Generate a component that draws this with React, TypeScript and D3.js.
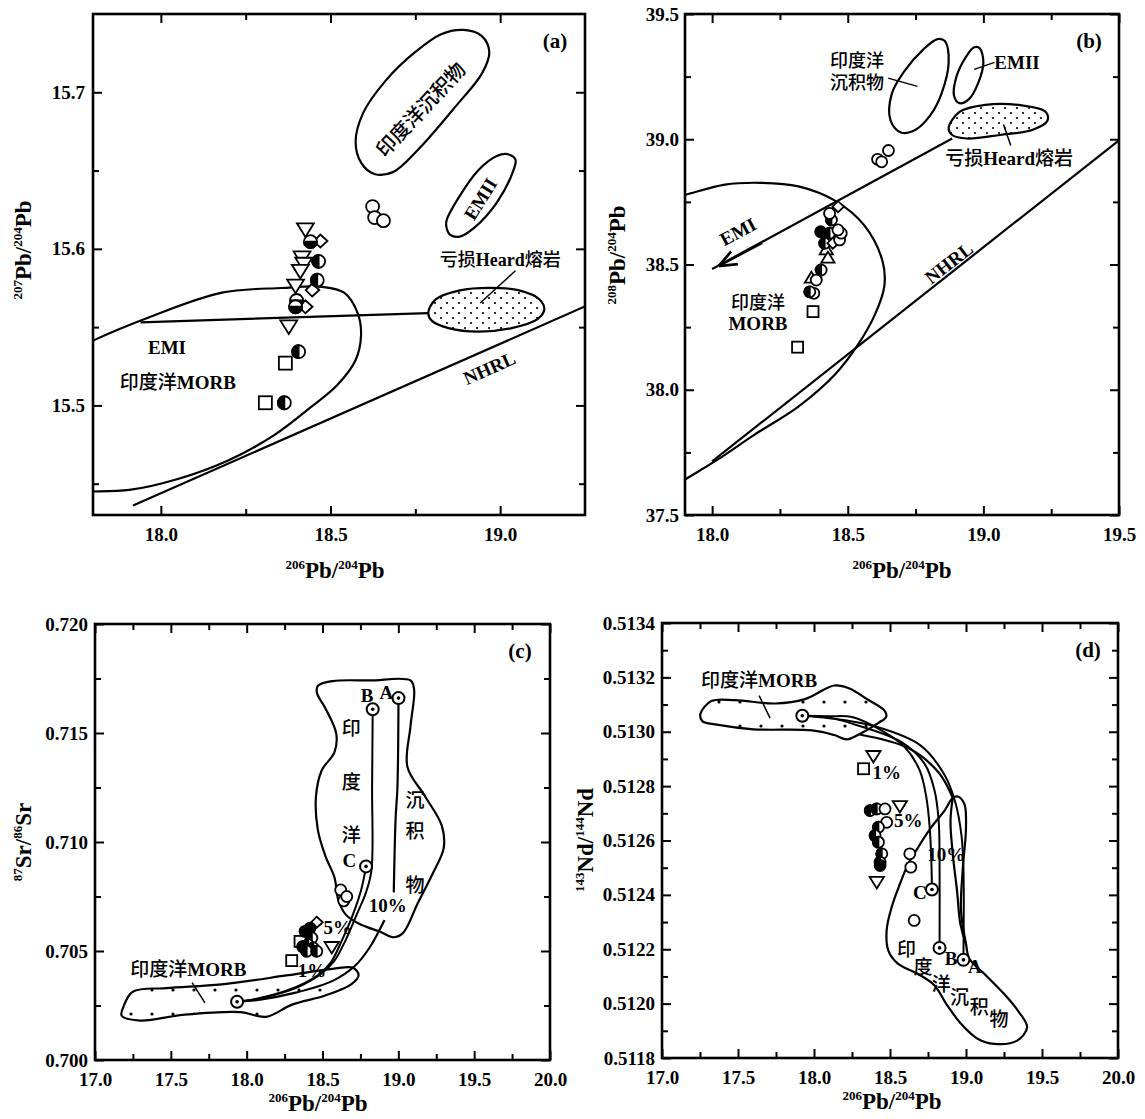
import React, { useEffect, useRef } from 'react';
import * as d3 from 'd3';

type P = [number, number];
type Sym = [number, number, string];
type Lab = [string, number, number, number?, number?];

const LATIN = "'Liberation Serif', 'Times New Roman', serif";
const MIXED = "'Liberation Serif', 'Noto Sans CJK SC', serif";

// ---------- panel (a): 207Pb/204Pb vs 206Pb/204Pb ----------
const aXTicks = [18.0, 18.5, 19.0];
const aXMinor = [18.25, 18.75];
const aYTicks = [15.5, 15.6, 15.7];
const aYMinor = [15.45, 15.55, 15.65];

const aMorbCurve: P[] = [
  [17.76, 15.537], [17.8, 15.5414], [17.962, 15.556], [18.18, 15.572], [18.356, 15.575], [18.476, 15.5757],
  [18.54, 15.572], [18.58, 15.559], [18.59, 15.545], [18.574, 15.529], [18.52, 15.513], [18.443, 15.499],
  [18.334, 15.481], [18.2, 15.465], [18.05, 15.453], [17.907, 15.446], [17.8, 15.445], [17.76, 15.445],
];
const aSediment: P[] = [
  [18.574, 15.6684], [18.591, 15.6547], [18.629, 15.6478], [18.684, 15.649], [18.76, 15.6638], [18.87, 15.6913],
  [18.946, 15.7119], [18.968, 15.7256], [18.946, 15.7359], [18.892, 15.7398], [18.826, 15.7371], [18.749, 15.7256],
  [18.662, 15.7073], [18.596, 15.6867],
];
const aEmii: P[] = [
  [18.842, 15.6135], [18.853, 15.6089], [18.881, 15.6078], [18.924, 15.6135], [18.99, 15.6295], [19.039, 15.6501],
  [19.045, 15.657], [19.023, 15.6604], [18.99, 15.6593], [18.935, 15.6501], [18.875, 15.6318], [18.842, 15.6181],
];
const aHeard: P[] = [
  [18.788, 15.559], [18.81, 15.5677], [18.881, 15.5735], [18.968, 15.5751], [19.056, 15.5735], [19.116, 15.5677],
  [19.13, 15.5613], [19.11, 15.5551], [19.034, 15.5494], [18.935, 15.5471], [18.848, 15.5494], [18.799, 15.554],
];
const aEmiLine: P[] = [[17.94, 15.553], [18.788, 15.559]];
const aNhrlLine: P[] = [[17.918, 15.436], [19.3, 15.568]];
const aLeaders: P[][] = [[[18.941, 15.5654], [19.045, 15.586]]];
const aSamples: Sym[] = [
  [18.426, 15.613, 'itri'], [18.416, 15.595, 'itri'], [18.421, 15.591, 'itri'], [18.411, 15.5865, 'itri'],
  [18.397, 15.577, 'itri'], [18.377, 15.551, 'itri'],
  [18.47, 15.605, 'dia'], [18.446, 15.5737, 'dia'], [18.426, 15.563, 'dia'],
  [18.441, 15.6046, 'hb'], [18.4, 15.567, 'hb'], [18.397, 15.563, 'hb'],
  [18.465, 15.592, 'hl'], [18.461, 15.58, 'hl'], [18.406, 15.5343, 'hl'], [18.364, 15.5017, 'hl'],
  [18.367, 15.527, 'sq'], [18.308, 15.5017, 'sq'],
  [18.624, 15.627, 'o'], [18.63, 15.62, 'o'], [18.656, 15.618, 'o'],
];
const aLabels: Lab[] = [
  ['印度洋沉积物', 18.766, 15.689, -47, 20],
  ['EMII', 18.941, 15.632, -58, 19],
  ['亏损Heard熔岩', 19.0, 15.593, 0, 18],
  ['EMI', 18.018, 15.537],
  ['印度洋MORB', 18.05, 15.515],
  ['NHRL', 18.968, 15.524, -24],
];

// ---------- panel (b): 208Pb/204Pb vs 206Pb/204Pb ----------
const bXTicks = [18.0, 18.5, 19.0, 19.5];
const bXMinor = [18.25, 18.75, 19.25];
const bYTicks = [37.5, 38.0, 38.5, 39.0, 39.5];
const bYMinor = [37.75, 38.25, 38.75, 39.25];

const bMorbCurve: P[] = [
  [17.86, 38.772], [17.892, 38.776], [18.047, 38.819], [18.182, 38.826], [18.318, 38.812], [18.453, 38.755],
  [18.561, 38.656], [18.628, 38.514], [18.635, 38.415], [18.601, 38.302], [18.534, 38.174], [18.453, 38.061],
  [18.318, 37.933], [18.155, 37.82], [18.02, 37.721], [17.892, 37.636], [17.86, 37.612],
];
const bSediment: P[] = [
  [18.858, 39.392], [18.872, 39.307], [18.845, 39.18], [18.804, 39.095], [18.75, 39.038], [18.696, 39.027],
  [18.658, 39.074], [18.662, 39.18], [18.709, 39.272], [18.777, 39.357], [18.831, 39.4],
];
const bEmii: P[] = [
  [18.986, 39.364], [19.0, 39.307], [18.98, 39.222], [18.946, 39.159], [18.912, 39.144], [18.892, 39.173],
  [18.901, 39.251], [18.936, 39.329], [18.966, 39.367],
];
const bHeard: P[] = [
  [18.872, 39.045], [18.912, 39.109], [19.007, 39.137], [19.142, 39.135], [19.23, 39.109], [19.236, 39.074],
  [19.182, 39.038], [19.061, 39.017], [18.939, 39.003], [18.885, 39.017],
];
const bEmiLine: P[] = [[18.0, 38.482], [18.885, 39.003]];
const bEmiArrow: P[] = [[18.185, 38.585], [18.03, 38.497]];
const bNhrlLine: P[] = [[18.0, 37.714], [19.5, 38.996]];
const bLeaders: P[][] = [
  [[18.649, 39.244], [18.757, 39.211]],
  [[19.041, 39.307], [18.966, 39.279]],
  [[19.074, 39.059], [19.101, 38.975]],
];
const bSamples: Sym[] = [
  [18.315, 38.17, 'sq'], [18.372, 38.312, 'sq'],
  [18.421, 38.558, 'tri'], [18.427, 38.525, 'tri'], [18.366, 38.445, 'tri'],
  [18.384, 38.438, 'o'], [18.375, 38.385, 'o'], [18.36, 38.391, 'hl'], [18.402, 38.478, 'hl'],
  [18.415, 38.585, 'hl'], [18.445, 38.585, 'dia'], [18.433, 38.625, 'hl'], [18.4, 38.631, 'f'],
  [18.47, 38.598, 'o'], [18.476, 38.625, 'o'], [18.464, 38.638, 'o'], [18.44, 38.678, 'hl'],
  [18.433, 38.704, 'o'], [18.464, 38.731, 'dia'],
  [18.61, 38.92, 'o'], [18.625, 38.91, 'o'], [18.65, 38.955, 'o'],
];
const bLabels: Lab[] = [
  ['印度洋', 18.534, 39.315, 0, 18], ['沉积物', 18.534, 39.228, 0, 18],
  ['EMII', 19.124, 39.307],
  ['亏损Heard熔岩', 19.095, 38.925],
  ['EMI', 18.095, 38.632, -28],
  ['印度洋', 18.169, 38.35, 0, 18], ['MORB', 18.169, 38.264],
  ['NHRL', 18.872, 38.507, -38],
];

// ---------- panel (c): 87Sr/86Sr vs 206Pb/204Pb ----------
const cdXTicks = [17.0, 17.5, 18.0, 18.5, 19.0, 19.5, 20.0];
const cdXMinor = [17.25, 17.75, 18.25, 18.75, 19.25, 19.75];
const cYTicks = [0.700, 0.705, 0.710, 0.715, 0.720];
const cYMinor = [0.7025, 0.7075, 0.7125, 0.7175];

const cMorbField: P[] = [
  [17.188, 0.70245], [17.249, 0.70313], [17.469, 0.7033], [17.835, 0.70347], [18.274, 0.70389], [18.567, 0.70418],
  [18.701, 0.70423], [18.738, 0.70389], [18.689, 0.70347], [18.518, 0.70296], [18.299, 0.70254], [18.128, 0.70198],
  [17.957, 0.7022], [17.591, 0.70208], [17.298, 0.70181], [17.176, 0.70203],
];
const cSedimentField: P[] = [
  [18.469, 0.71716], [18.567, 0.71738], [18.811, 0.71741], [19.08, 0.71741], [19.104, 0.71699], [19.08, 0.7153],
  [19.06, 0.71344], [19.177, 0.71209], [19.287, 0.71074], [19.299, 0.70972], [19.226, 0.70854], [19.128, 0.70719],
  [19.031, 0.70583], [18.97, 0.70563], [18.884, 0.70587], [18.738, 0.70626], [18.652, 0.70668], [18.604, 0.70735],
  [18.579, 0.70837], [18.518, 0.70938], [18.469, 0.71057], [18.457, 0.71209], [18.494, 0.71327], [18.579, 0.71412],
  [18.591, 0.71496], [18.518, 0.71615], [18.464, 0.71682],
];
const cMixA1: P[] = [[19.001, 0.7166], [18.994, 0.7125], [18.982, 0.71107], [18.97, 0.70769]];
const cMixA2: P[] = [
  [18.909, 0.70642], [18.811, 0.70516], [18.713, 0.70431], [18.567, 0.70363], [18.323, 0.70309], [18.079, 0.70276], [17.937, 0.70267],
];
const cMixB: P[] = [
  [18.831, 0.71609], [18.827, 0.7125], [18.823, 0.70871], [18.787, 0.70769], [18.726, 0.70668], [18.652, 0.70549],
  [18.579, 0.70456], [18.494, 0.70397], [18.323, 0.7033], [18.079, 0.70282], [17.937, 0.70267],
];
const cMixC: P[] = [
  [18.787, 0.70888], [18.757, 0.70786], [18.701, 0.70668], [18.628, 0.70549], [18.555, 0.70448], [18.469, 0.70389],
  [18.274, 0.70321], [18.054, 0.70279], [17.937, 0.70267],
];
const cEnds: P[] = [[17.937, 0.70267], [19.001, 0.7166], [18.831, 0.71609], [18.787, 0.70888]];
const cLeaders: P[][] = [[[17.64, 0.70355], [17.725, 0.70262]]];
const cSamples: Sym[] = [
  [18.352, 0.70544, 'sq'], [18.297, 0.70456, 'sq'], [18.561, 0.70521, 'itri'], [18.462, 0.70632, 'dia'],
  [18.418, 0.70605, 'f'], [18.385, 0.7059, 'f'], [18.43, 0.7056, 'hl'], [18.37, 0.7052, 'hl'],
  [18.406, 0.70529, 'hl'], [18.44, 0.70514, 'hl'], [18.396, 0.70499, 'hl'], [18.462, 0.70499, 'hl'],
  [18.62, 0.7078, 'o'], [18.64, 0.7073, 'o'], [18.66, 0.7075, 'o'],
];
const cLabels: Lab[] = [
  ['印', 18.69, 0.71522], ['度', 18.69, 0.71276], ['洋', 18.69, 0.71031],
  ['沉', 19.11, 0.71192], ['积', 19.11, 0.71048], ['物', 19.11, 0.70803],
  ['A', 18.921, 0.71686], ['B', 18.794, 0.71674], ['C', 18.677, 0.70918],
  ['10%', 18.93, 0.7071], ['5%', 18.6, 0.70609], ['1%', 18.43, 0.70414],
  ['印度洋MORB', 17.615, 0.70418],
];

// ---------- panel (d): 143Nd/144Nd vs 206Pb/204Pb ----------
const dYTicks = [0.5118, 0.512, 0.5122, 0.5124, 0.5126, 0.5128, 0.513, 0.5132, 0.5134];
const dYMinor = [0.5119, 0.5121, 0.5123, 0.5125, 0.5127, 0.5129, 0.5131, 0.5133];

const dMorbField: P[] = [
  [17.253, 0.513066], [17.325, 0.513113], [17.482, 0.513116], [17.747, 0.513104], [17.94, 0.51312], [18.133, 0.51317],
  [18.229, 0.51316], [18.349, 0.51312], [18.465, 0.513077], [18.475, 0.513055], [18.422, 0.513032], [18.301, 0.512992],
  [18.217, 0.512972], [18.133, 0.512988], [17.988, 0.513005], [17.602, 0.513009], [17.361, 0.513026], [17.265, 0.513039],
];
const dSedimentField: P[] = [
  [18.913, 0.512757], [18.859, 0.51271], [18.772, 0.512649], [18.685, 0.512575], [18.62, 0.512514], [18.565, 0.51244],
  [18.511, 0.512355], [18.478, 0.51227], [18.489, 0.512195], [18.554, 0.512146], [18.685, 0.512109], [18.793, 0.512067],
  [18.87, 0.511999], [18.967, 0.511926], [19.076, 0.511871], [19.185, 0.511852], [19.337, 0.511864], [19.402, 0.511913],
  [19.348, 0.511969], [19.25, 0.512036], [19.12, 0.51211], [19.022, 0.512165], [19.0, 0.51222], [18.967, 0.512342],
  [18.978, 0.51249], [19.0, 0.512649], [18.989, 0.512735], [18.946, 0.512762],
];
const dLoopLeft: P[] = [
  [18.913, 0.512757], [18.898, 0.512673], [18.913, 0.51255], [18.941, 0.512415], [18.963, 0.512293], [19.0, 0.51222],
];
const dArm: P[] = [[18.3, 0.51299], [18.62, 0.51294], [18.82, 0.51285], [18.913, 0.512757]];
const dMixA: P[] = [
  [17.923, 0.513059], [18.1, 0.51305], [18.4, 0.51302], [18.7, 0.51295], [18.86, 0.51284], [18.93, 0.51274],
  [18.97, 0.51262], [18.983, 0.5125], [18.983, 0.512161],
];
const dMixB: P[] = [
  [17.923, 0.513059], [18.1, 0.513052], [18.25, 0.51303], [18.576, 0.512962], [18.728, 0.512882], [18.793, 0.512784],
  [18.82, 0.512674], [18.826, 0.51252], [18.826, 0.512205],
];
const dMixC: P[] = [
  [17.923, 0.513059], [18.1, 0.513057], [18.25, 0.513054], [18.446, 0.513004], [18.598, 0.512943], [18.696, 0.512857],
  [18.739, 0.512759], [18.761, 0.512649], [18.772, 0.512526], [18.776, 0.51242],
];
const dEnds: P[] = [[17.923, 0.513059], [18.983, 0.512161], [18.826, 0.512205], [18.776, 0.51242]];
const dLeaders: P[][] = [[[17.639, 0.513133], [17.711, 0.51305]]];
const dSamples: Sym[] = [
  [18.326, 0.512864, 'sq'], [18.391, 0.512913, 'itri'], [18.565, 0.512729, 'itri'], [18.413, 0.51245, 'itri'],
  [18.37, 0.51271, 'hl'], [18.413, 0.512716, 'hl'], [18.467, 0.512716, 'o'], [18.478, 0.512667, 'o'],
  [18.424, 0.512649, 'hl'], [18.402, 0.512618, 'hl'], [18.424, 0.512594, 'hl'], [18.446, 0.512551, 'hl'],
  [18.435, 0.51252, 'hl'], [18.435, 0.512508, 'f'],
  [18.63, 0.512551, 'o'], [18.637, 0.512502, 'o'], [18.659, 0.512306, 'o'],
];
const dLabels: Lab[] = [
  ['印度洋MORB', 17.639, 0.51319],
  ['1%', 18.478, 0.512851], ['5%', 18.62, 0.512673], ['10%', 18.87, 0.512551],
  ['C', 18.696, 0.51241], ['B', 18.902, 0.512168], ['A', 19.059, 0.512136],
  ['印', 18.609, 0.512201], ['度', 18.717, 0.512134], ['洋', 18.837, 0.512073],
  ['沉', 18.957, 0.512024], ['积', 19.087, 0.511987], ['物', 19.217, 0.511944],
];

type Panel = {
  id: string; tag: string;
  l: number; r: number; t: number; b: number;
  xDomain: P; yDomain: P;
  xTicks: number[]; xMinor: number[]; yTicks: number[]; yMinor: number[];
  xFmt: string; yFmt: string; yPad: number;
  xTitle: [string, string, string, string]; yTitle: [string, string, string, string];
  xTitlePos: P; yTitlePos: P;
};

const panels: Panel[] = [
  { id: 'a', tag: '(a)', l: 93, r: 585, t: 14, b: 515, xDomain: [17.8, 19.25], yDomain: [15.43, 15.75],
    xTicks: aXTicks, xMinor: aXMinor, yTicks: aYTicks, yMinor: aYMinor, xFmt: '.1f', yFmt: '.1f', yPad: 8,
    xTitle: ['206', 'Pb/', '204', 'Pb'], yTitle: ['207', 'Pb/', '204', 'Pb'], xTitlePos: [335, 578], yTitlePos: [31, 250] },
  { id: 'b', tag: '(b)', l: 685, r: 1119, t: 14, b: 515, xDomain: [17.9, 19.5], yDomain: [37.5, 39.5],
    xTicks: bXTicks, xMinor: bXMinor, yTicks: bYTicks, yMinor: bYMinor, xFmt: '.1f', yFmt: '.1f', yPad: 6,
    xTitle: ['206', 'Pb/', '204', 'Pb'], yTitle: ['208', 'Pb/', '204', 'Pb'], xTitlePos: [902, 578], yTitlePos: [625, 255] },
  { id: 'c', tag: '(c)', l: 95, r: 550, t: 624, b: 1060, xDomain: [17, 20], yDomain: [0.7, 0.72],
    xTicks: cdXTicks, xMinor: cdXMinor, yTicks: cYTicks, yMinor: cYMinor, xFmt: '.1f', yFmt: '.3f', yPad: 7,
    xTitle: ['206', 'Pb/', '204', 'Pb'], yTitle: ['87', 'Sr/', '86', 'Sr'], xTitlePos: [318, 1111], yTitlePos: [31, 842] },
  { id: 'd', tag: '(d)', l: 662, r: 1118, t: 623, b: 1058, xDomain: [17, 20], yDomain: [0.5118, 0.5134],
    xTicks: cdXTicks, xMinor: cdXMinor, yTicks: dYTicks, yMinor: dYMinor, xFmt: '.1f', yFmt: '.4f', yPad: 7,
    xTitle: ['206', 'Pb/', '204', 'Pb'], yTitle: ['143', 'Nd/', '144', 'Nd'], xTitlePos: [892, 1109], yTitlePos: [593, 840] },
];

function drawTicks(g: any, x: any, y: any, p: Panel) {
  const sides = [
    { mk: () => d3.axisBottom(x), tr: `translate(0,${p.b})`, major: p.xTicks, minor: p.xMinor, fmt: p.xFmt, pad: 13 },
    { mk: () => d3.axisTop(x), tr: `translate(0,${p.t})`, major: p.xTicks, minor: p.xMinor, fmt: null, pad: 0 },
    { mk: () => d3.axisLeft(y), tr: `translate(${p.l},0)`, major: p.yTicks, minor: p.yMinor, fmt: p.yFmt, pad: p.yPad },
    { mk: () => d3.axisRight(y), tr: `translate(${p.r},0)`, major: p.yTicks, minor: p.yMinor, fmt: null, pad: 0 },
  ];
  sides.forEach(s => {
    const major = g.append('g').attr('transform', s.tr)
      .call(s.mk().tickValues(s.major).tickSize(-9).tickSizeOuter(0).tickPadding(s.pad)
        .tickFormat(s.fmt ? d3.format(s.fmt) : () => ''));
    const minor = g.append('g').attr('transform', s.tr)
      .call(s.mk().tickValues(s.minor).tickSize(-6).tickSizeOuter(0).tickFormat(() => ''));
    [major, minor].forEach(a => {
      a.select('.domain').remove();
      a.selectAll('line').attr('stroke', '#000').attr('stroke-width', 2);
    });
    major.selectAll('text').attr('font-family', LATIN).attr('font-weight', 'bold')
      .attr('font-size', 19).attr('fill', '#000');
  });
}

function drawTitle(g: any, pos: P, parts: string[], rotate: boolean) {
  const t = g.append('text')
    .attr('transform', `translate(${pos[0]},${pos[1]})${rotate ? ' rotate(-90)' : ''}`)
    .attr('text-anchor', 'middle').attr('font-family', LATIN).attr('font-weight', 'bold').attr('fill', '#000');
  t.append('tspan').attr('font-size', 13).attr('dy', -9).text(parts[0]);
  t.append('tspan').attr('font-size', 23).attr('dy', 9).text(parts[1]);
  t.append('tspan').attr('font-size', 13).attr('dy', -9).text(parts[2]);
  t.append('tspan').attr('font-size', 23).attr('dy', 9).text(parts[3]);
}

function drawSymbols(g: any, x: any, y: any, pts: Sym[], r: number) {
  pts.forEach(([dx, dy, t]) => {
    const cx = x(dx), cy = y(dy);
    const s = g.append('g').attr('stroke', '#000').attr('stroke-width', 1.8);
    if (t === 'sq') {
      s.append('rect').attr('x', cx - r).attr('y', cy - r).attr('width', 2 * r).attr('height', 2 * r).attr('fill', '#fff');
    } else if (t === 'itri') {
      s.append('path').attr('fill', '#fff')
        .attr('d', `M${cx - r * 1.3},${cy - r * 0.8}L${cx + r * 1.3},${cy - r * 0.8}L${cx},${cy + r * 1.3}Z`);
    } else if (t === 'tri') {
      s.append('path').attr('fill', '#fff')
        .attr('d', `M${cx - r * 1.2},${cy + r * 0.8}L${cx + r * 1.2},${cy + r * 0.8}L${cx},${cy - r * 1.2}Z`);
    } else if (t === 'dia') {
      s.append('path').attr('fill', '#fff')
        .attr('d', `M${cx - r},${cy}L${cx},${cy - r}L${cx + r * 1.1},${cy}L${cx},${cy + r}Z`);
    } else {
      s.append('circle').attr('cx', cx).attr('cy', cy).attr('r', r).attr('fill', t === 'f' ? '#000' : '#fff');
      if (t === 'hl') s.append('path').attr('fill', '#000').attr('d', `M${cx},${cy - r}A${r},${r} 0 0 0 ${cx},${cy + r}Z`);
      if (t === 'hb') s.append('path').attr('fill', '#000').attr('d', `M${cx - r},${cy}A${r},${r} 0 0 0 ${cx + r},${cy}Z`);
    }
  });
}

function drawEnds(g: any, x: any, y: any, pts: P[]) {
  pts.forEach(([dx, dy]) => {
    g.append('circle').attr('cx', x(dx)).attr('cy', y(dy)).attr('r', 6)
      .attr('fill', '#fff').attr('stroke', '#000').attr('stroke-width', 2);
    g.append('circle').attr('cx', x(dx)).attr('cy', y(dy)).attr('r', 1.8).attr('fill', '#000');
  });
}

// latin runs bold serif, chinese runs in a lighter CJK face
function drawLabels(g: any, x: any, y: any, labs: Lab[]) {
  labs.forEach(([txt, dx, dy, rot = 0, size = 19]) => {
    const t = g.append('text').attr('transform', `translate(${x(dx)},${y(dy)}) rotate(${rot})`)
      .attr('text-anchor', 'middle').attr('dy', '0.36em')
      .attr('font-family', MIXED).attr('font-size', size).attr('fill', '#000');
    (txt.match(/[\u4e00-\u9fff]+|[^\u4e00-\u9fff]+/g) || []).forEach(run => {
      const cjk = /[\u4e00-\u9fff]/.test(run);
      t.append('tspan').attr('font-weight', cjk ? 500 : 'bold').text(run);
    });
  });
}

export default function App() {
  const ref = useRef<SVGSVGElement>(null);

  useEffect(() => {
    const svg = d3.select(ref.current);
    svg.selectAll('*').remove();
    const defs = svg.append('defs');

    const fine = defs.append('pattern').attr('id', 'dotsFine').attr('patternUnits', 'userSpaceOnUse')
      .attr('width', 12).attr('height', 10);
    fine.append('circle').attr('cx', 3).attr('cy', 3).attr('r', 1.1).attr('fill', '#000');
    fine.append('circle').attr('cx', 9).attr('cy', 8).attr('r', 1.1).attr('fill', '#000');
    const wide = defs.append('pattern').attr('id', 'dotsWide').attr('patternUnits', 'userSpaceOnUse')
      .attr('width', 21).attr('height', 24);
    wide.append('circle').attr('cx', 5).attr('cy', 6).attr('r', 1.6).attr('fill', '#000');
    defs.append('marker').attr('id', 'arrow').attr('viewBox', '0 0 10 10').attr('refX', 9).attr('refY', 5)
      .attr('markerWidth', 9).attr('markerHeight', 9).attr('orient', 'auto')
      .append('path').attr('d', 'M0,1L10,5L0,9').attr('fill', 'none').attr('stroke', '#000').attr('stroke-width', 1.5);

    panels.forEach(p => {
      const x = d3.scaleLinear().domain(p.xDomain).range([p.l, p.r]);
      const y = d3.scaleLinear().domain(p.yDomain).range([p.b, p.t]);
      const g = svg.append('g');
      defs.append('clipPath').attr('id', `clip-${p.id}`).append('rect')
        .attr('x', p.l).attr('y', p.t).attr('width', p.r - p.l).attr('height', p.b - p.t);
      const plot = g.append('g').attr('clip-path', `url(#clip-${p.id})`);

      const closed = d3.line<P>().x(d => x(d[0])).y(d => y(d[1])).curve(d3.curveCatmullRomClosed.alpha(0.5));
      const smooth = d3.line<P>().x(d => x(d[0])).y(d => y(d[1])).curve(d3.curveCatmullRom.alpha(0.5));
      const straight = d3.line<P>().x(d => x(d[0])).y(d => y(d[1]));

      const field = (pts: P[], fill = 'none', w = 2.2) =>
        plot.append('path').attr('d', closed(pts)).attr('fill', fill).attr('stroke', '#000').attr('stroke-width', w);
      const curve = (pts: P[], w = 2.2) =>
        plot.append('path').attr('d', smooth(pts)).attr('fill', 'none').attr('stroke', '#000').attr('stroke-width', w);
      const line = (pts: P[], w = 2.2) =>
        plot.append('path').attr('d', straight(pts)).attr('fill', 'none').attr('stroke', '#000').attr('stroke-width', w);

      if (p.id === 'a') {
        curve(aMorbCurve);
        line(aEmiLine);
        line(aNhrlLine);
        field(aSediment);
        field(aEmii);
        field(aHeard, 'url(#dotsFine)');
        aLeaders.forEach(l => line(l, 1.5));
        drawSymbols(plot, x, y, aSamples, 6.5);
        drawLabels(plot, x, y, aLabels);
      } else if (p.id === 'b') {
        curve(bMorbCurve);
        line(bEmiLine);
        line(bNhrlLine);
        line(bEmiArrow, 2).attr('marker-end', 'url(#arrow)');
        field(bSediment);
        field(bEmii);
        field(bHeard, 'url(#dotsFine)');
        bLeaders.forEach(l => line(l, 1.5));
        drawSymbols(plot, x, y, bSamples, 5.5);
        drawLabels(plot, x, y, bLabels);
      } else if (p.id === 'c') {
        field(cMorbField, 'url(#dotsWide)');
        field(cSedimentField);
        curve(cMixA1); curve(cMixA2); curve(cMixB, 2); curve(cMixC, 2);
        cLeaders.forEach(l => line(l, 1.5));
        drawSymbols(plot, x, y, cSamples, 5.5);
        drawEnds(plot, x, y, cEnds);
        drawLabels(plot, x, y, cLabels);
      } else {
        field(dMorbField, 'url(#dotsWide)');
        field(dSedimentField);
        curve(dLoopLeft);
        curve(dArm);
        curve(dMixA, 2); curve(dMixB, 2); curve(dMixC, 2);
        dLeaders.forEach(l => line(l, 1.5));
        drawSymbols(plot, x, y, dSamples, 5.5);
        drawEnds(plot, x, y, dEnds);
        drawLabels(plot, x, y, dLabels);
      }

      drawTicks(g, x, y, p);
      g.append('rect').attr('x', p.l).attr('y', p.t).attr('width', p.r - p.l).attr('height', p.b - p.t)
        .attr('fill', 'none').attr('stroke', '#000').attr('stroke-width', 2.6);
      g.append('text').attr('x', p.r - 30).attr('y', p.t + 34).attr('text-anchor', 'middle')
        .attr('font-family', LATIN).attr('font-weight', 'bold').attr('font-size', 21).text(p.tag);
      drawTitle(g, p.xTitlePos, p.xTitle, false);
      drawTitle(g, p.yTitlePos, p.yTitle, true);
    });
  }, []);

  return (
    <svg ref={ref} width={1145} height={1119}
      style={{ position: 'absolute', left: 0, top: 0, background: '#fff' }} />
  );
}
